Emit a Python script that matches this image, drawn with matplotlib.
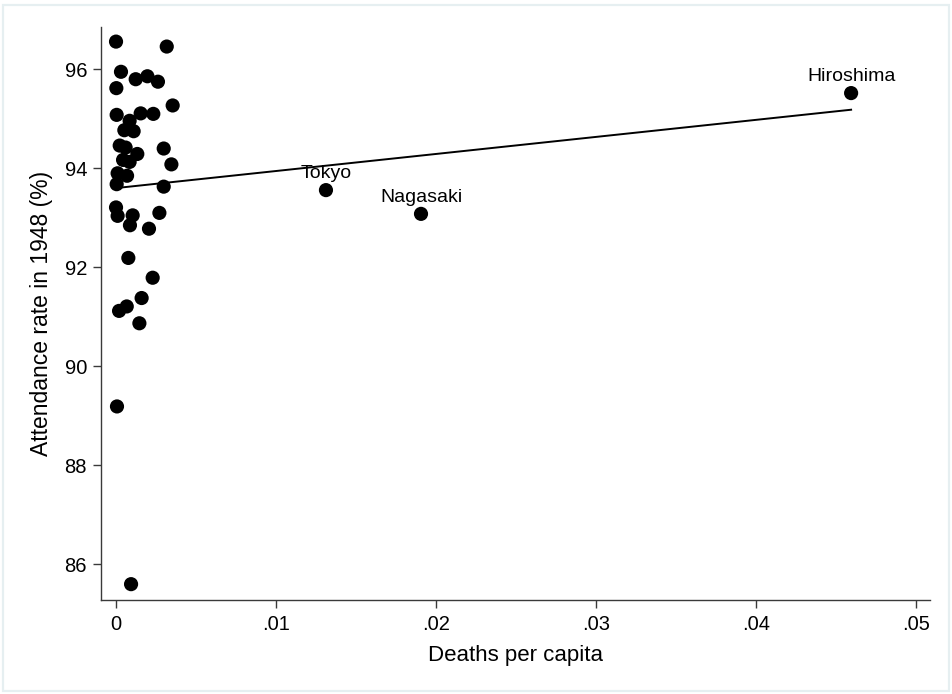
import numpy as np
import matplotlib
matplotlib.use("Agg")
import matplotlib.pyplot as plt
from matplotlib.patches import Rectangle

plt.rcParams['font.family'] = ['Liberation Sans', 'DejaVu Sans']

# Prefecture-level data: deaths per capita vs. school attendance rate in 1948
deaths = [
    0.00002, 0.00319, 0.00033, 0.00125, 0.00198, 0.00264, 0.00004, 0.00356,
    0.00006, 0.00087, 0.00156, 0.00235, 0.00054, 0.00112, 0.00025, 0.00062,
    0.00135, 0.00300, 0.00046, 0.00087, 0.00348, 0.00012, 0.00071, 0.00006,
    0.00300, 0.00002, 0.00012, 0.00106, 0.00273, 0.00089, 0.00208, 0.00079,
    0.00231, 0.00162, 0.00069, 0.00021, 0.00148, 0.00008, 0.00096,
    0.01314, 0.01908, 0.04596,
]
attendance = [
    96.56, 96.46, 95.95, 95.80, 95.86, 95.75, 95.62, 95.27,
    95.08, 94.96, 95.11, 95.10, 94.77, 94.75, 94.46, 94.42,
    94.29, 94.40, 94.17, 94.13, 94.08, 93.90, 93.85, 93.68,
    93.63, 93.21, 93.04, 93.05, 93.10, 92.85, 92.78, 92.19,
    91.79, 91.38, 91.21, 91.12, 90.87, 89.19, 85.60,
    93.56, 93.08, 95.52,
]
labels = [""] * 39 + ["Tokyo", "Nagasaki", "Hiroshima"]

x_ticks = [0, 0.01, 0.02, 0.03, 0.04, 0.05]
x_tick_labels = ["0", ".01", ".02", ".03", ".04", ".05"]
y_ticks = [86, 88, 90, 92, 94, 96]

x = np.array(deaths)
y = np.array(attendance)

fig = plt.figure(figsize=(9.53, 6.94), dpi=100)
fig.patch.set_facecolor("white")
fig.add_artist(Rectangle((3.5 / 953, 3.5 / 694), 946 / 953, 686 / 694,
                         transform=fig.transFigure, fill=False,
                         edgecolor="#e6eff1", linewidth=1.6))

ax = fig.add_axes([101 / 953, 94 / 694, 829 / 953, 573 / 694])

ax.scatter(x, y, s=10.2 ** 2, color="black", edgecolors="none", zorder=3)

# Linear fit across the observed range
slope, intercept = np.polyfit(x, y, 1)
xf = np.array([x.min(), x.max()])
ax.plot(xf, intercept + slope * xf, color="black", linewidth=1.4, zorder=2)

for xi, yi, lab in zip(x, y, labels):
    if lab:
        ax.annotate(lab, (xi, yi), xytext=(0, 8.6), textcoords="offset points",
                    ha="center", va="baseline", fontsize=14, color="black",
                    zorder=4)

ax.set_xlim(-0.000919, 0.05089)
ax.set_ylim(85.28, 96.855)
ax.set_xticks(x_ticks)
ax.set_xticklabels(x_tick_labels)
ax.set_yticks(y_ticks)

for side in ("top", "right"):
    ax.spines[side].set_visible(False)
for side in ("left", "bottom"):
    ax.spines[side].set_color("#3a3a3a")
    ax.spines[side].set_linewidth(1.0)

ax.tick_params(axis="both", direction="out", length=6, width=1.0,
               color="#3a3a3a", labelsize=14.5, labelcolor="black")
ax.tick_params(axis="x", pad=5)
ax.tick_params(axis="y", pad=4)

ax.set_xlabel("Deaths per capita", fontsize=16, color="black", labelpad=8)
ax.set_ylabel("Attendance rate in 1948 (%)", fontsize=16.5, color="black",
              labelpad=8)

fig.savefig("out.png", dpi=100, facecolor="white")
